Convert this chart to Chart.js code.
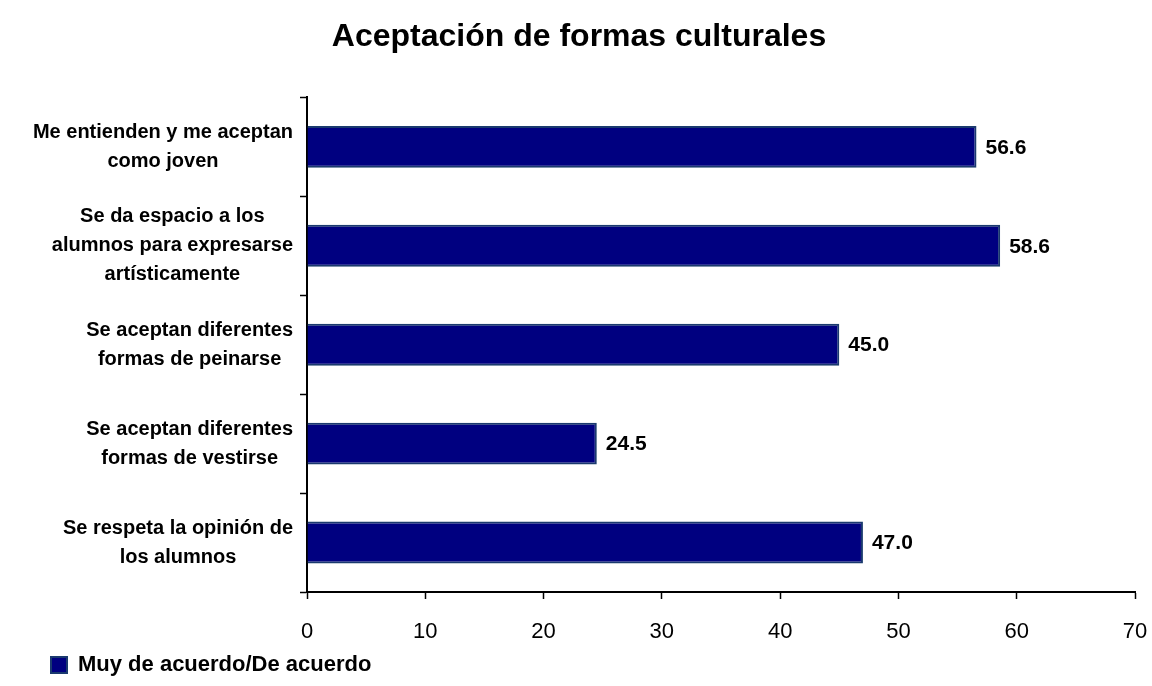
<!DOCTYPE html>
<html>
<head>
<meta charset="utf-8">
<script src="https://cdn.jsdelivr.net/npm/chart.js@4/dist/chart.umd.min.js"></script>
<style>
  html, body { margin: 0; padding: 0; background: #fff; }
  #chart { display: block; }
</style>
</head>
<body>
<canvas id="chart" width="1152" height="686"></canvas>
<script>
// categories (top to bottom) and their percentages
var categories = [
    ['Me entienden y me aceptan', 'como joven'],
    ['Se da espacio a los', 'alumnos para expresarse', 'artísticamente'],
    ['Se aceptan diferentes', 'formas de peinarse'],
    ['Se aceptan diferentes', 'formas de vestirse'],
    ['Se respeta la opinión de', 'los alumnos']
];
var values = [56.6, 58.6, 45.0, 24.5, 47.0];
var seriesName = 'Muy de acuerdo/De acuerdo';
var xTicks = [0, 10, 20, 30, 40, 50, 60, 70];

var FONT = '"Liberation Sans", Arial, sans-serif';

// category labels: lines centred on each other, block right-aligned next to the axis
var categoryLabels = {
    id: 'categoryLabels',
    afterLayout: function (chart) {
        // centre the title on the page rather than between the paddings
        var t = chart.titleBlock;
        if (t) { t.left -= 9; t.right -= 9; }
    },
    afterDraw: function (chart) {
        var ctx = chart.ctx;
        var yScale = chart.scales.y;
        var right = chart.chartArea.left - 14;
        var lineH = 29;
        ctx.save();
        ctx.font = 'bold 20px ' + FONT;
        ctx.fillStyle = '#000';
        ctx.textAlign = 'center';
        ctx.textBaseline = 'middle';
        categories.forEach(function (lines, i) {
            var w = 0;
            lines.forEach(function (l) { w = Math.max(w, ctx.measureText(l).width); });
            var cx = right - w / 2;
            var y0 = yScale.getPixelForValue(i) - (lines.length - 1) * lineH / 2;
            lines.forEach(function (l, k) {
                ctx.fillText(l, cx, y0 + k * lineH);
            });
        });
        ctx.restore();
    }
};

// writes the value next to the end of each bar
var valueLabels = {
    id: 'valueLabels',
    afterDatasetsDraw: function (chart) {
        var ctx = chart.ctx;
        var meta = chart.getDatasetMeta(0);
        ctx.save();
        ctx.font = 'bold 21px ' + FONT;
        ctx.fillStyle = '#000';
        ctx.textAlign = 'left';
        ctx.textBaseline = 'middle';
        meta.data.forEach(function (bar, i) {
            ctx.fillText(values[i].toFixed(1), bar.x + 9, bar.y + 1);
        });
        ctx.restore();
    }
};

var ctx = document.getElementById('chart').getContext('2d');
var myChart = new Chart(ctx, {
    type: 'bar',
    data: {
        labels: categories,
        datasets: [{
            label: seriesName,
            data: values,
            backgroundColor: '#000080',
            borderColor: '#1a3a6e',
            borderWidth: 2,
            borderSkipped: 'start',
            categoryPercentage: 1,
            barPercentage: 0.424
        }]
    },
    options: {
        indexAxis: 'y',
        responsive: false,
        animation: false,
        layout: { padding: { top: 0, left: 41, right: 17, bottom: 0 } },
        scales: {
            x: {
                min: 0,
                max: 70,
                afterBuildTicks: function (axis) {
                    axis.ticks = xTicks.map(function (v) { return { value: v }; });
                },
                afterFit: function (axis) {
                    axis.height = 52;
                    axis.paddingRight = 0;
                },
                grid: { drawOnChartArea: false, tickLength: 7, tickColor: '#000', tickWidth: 1.5 },
                border: { color: '#000', width: 2 },
                ticks: {
                    padding: 20,
                    color: '#000',
                    font: { family: FONT, size: 22 }
                }
            },
            y: {
                afterFit: function (axis) { axis.width = 266; },
                grid: { drawOnChartArea: false, offset: true, tickLength: 7, tickColor: '#000', tickWidth: 1.5 },
                border: { color: '#000', width: 2 },
                ticks: { display: false }
            }
        },
        plugins: {
            title: {
                display: true,
                text: 'Aceptación de formas culturales',
                color: '#000',
                font: { family: FONT, size: 32, weight: 'bold' },
                padding: { top: 18, bottom: 41 }
            },
            legend: {
                display: true,
                position: 'bottom',
                align: 'start',
                labels: {
                    color: '#000',
                    boxWidth: 16,
                    boxHeight: 16,
                    padding: 10,
                    font: { family: FONT, size: 22, weight: 'bold' }
                }
            },
            tooltip: { enabled: false }
        }
    },
    plugins: [categoryLabels, valueLabels]
});
</script>
</body>
</html>
